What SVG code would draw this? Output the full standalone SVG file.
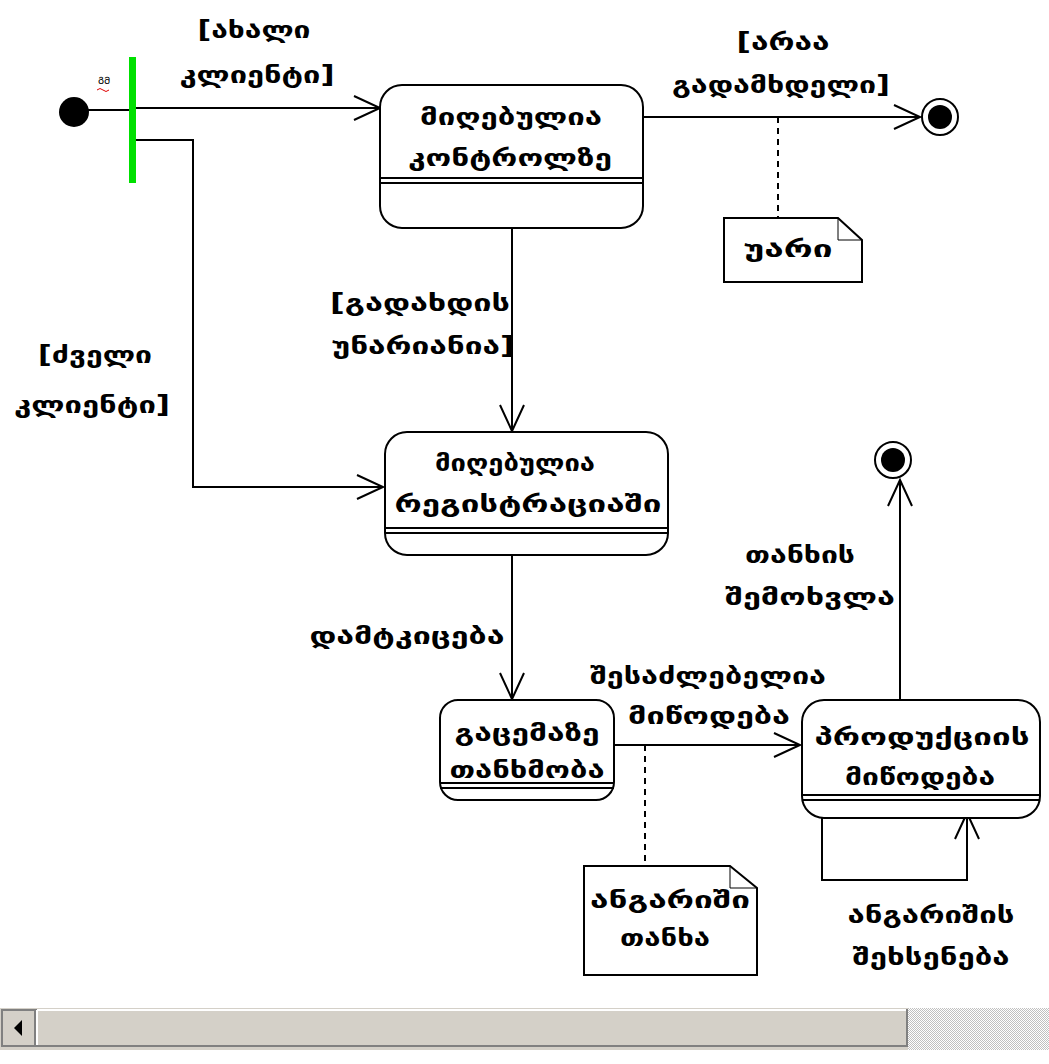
<svg xmlns="http://www.w3.org/2000/svg" width="1049" height="1064" viewBox="0 0 1049 1064">
<style>
text{font-family:"DejaVu Sans","Noto Sans",sans-serif;font-weight:bold;font-size:24px;fill:#000;text-anchor:middle}
.st{fill:#fff;stroke:#000;stroke-width:2}
.ln{fill:none;stroke:#000;stroke-width:2}
.dash{fill:none;stroke:#000;stroke-width:2;stroke-dasharray:6,5}
.arr{fill:none;stroke:#000;stroke-width:2;marker-end:url(#open)}
</style>
<defs>
<marker id="open" markerWidth="30" markerHeight="30" refX="27" refY="13" orient="auto" markerUnits="userSpaceOnUse">
<path d="M1,1 L27,13 L1,25" fill="none" stroke="#000" stroke-width="2"/>
</marker>
<pattern id="chk" width="2" height="2" patternUnits="userSpaceOnUse">
<rect width="2" height="2" fill="#fff"/><rect width="1" height="1" fill="#c0c0c0"/><rect x="1" y="1" width="1" height="1" fill="#c0c0c0"/>
</pattern>
</defs>
<rect width="1049" height="1064" fill="#fff"/>

<g id="connectors">
<line class="ln" x1="74" y1="110" x2="132" y2="110"/>
<line class="arr" x1="135" y1="108" x2="380" y2="108"/>
<polyline class="arr" points="135,140 193,140 193,487 383,487"/>
<line class="arr" x1="643" y1="117" x2="920" y2="117"/>
<line class="dash" x1="778" y1="117" x2="778" y2="218"/>
<line class="arr" x1="512" y1="228" x2="512" y2="431"/>
<line class="arr" x1="512" y1="555" x2="512" y2="699"/>
<line class="arr" x1="614" y1="745" x2="800" y2="745"/>
<line class="dash" x1="645" y1="745" x2="645" y2="866"/>
<polyline class="arr" points="822,812 822,880 967,880 967,813"/>
<line class="arr" x1="900" y1="700" x2="900" y2="480"/>
</g>

<g id="initial">
<circle cx="74" cy="112" r="15" fill="#000"/>
</g>
<g id="fork">
<rect x="129" y="57" width="7" height="126" fill="#00e000"/>
<text x="104" y="84" style="font-size:10px;font-weight:normal">ᲒᲛ</text>
<path d="M97,90 q3,-3 6,0 q3,3 6,0" fill="none" stroke="#e00000" stroke-width="1"/>
</g>

<g id="lbl-new">
<text x="254" y="38" textLength="113" lengthAdjust="spacingAndGlyphs">[ახალი</text>
<text x="257" y="83" textLength="155" lengthAdjust="spacingAndGlyphs">კლიენტი]</text>
</g>
<g id="lbl-old">
<text x="95" y="363" textLength="114" lengthAdjust="spacingAndGlyphs">[ძველი</text>
<text x="92" y="413" textLength="156" lengthAdjust="spacingAndGlyphs">კლიენტი]</text>
</g>

<g id="s1">
<rect class="st" x="380" y="85" width="263" height="143" rx="22"/>
<line class="ln" x1="380" y1="178" x2="643" y2="178"/>
<line class="ln" x1="380" y1="183" x2="643" y2="183"/>
<text x="511" y="125" textLength="182" lengthAdjust="spacingAndGlyphs">მიღებულია</text>
<text x="510" y="166" textLength="204" lengthAdjust="spacingAndGlyphs">კონტროლზე</text>
</g>

<g id="lbl-notpayer">
<text x="783" y="50" textLength="93" lengthAdjust="spacingAndGlyphs">[არაა</text>
<text x="781" y="93" textLength="218" lengthAdjust="spacingAndGlyphs">გადამხდელი]</text>
</g>

<g id="final1">
<circle cx="940" cy="117" r="18" fill="#fff" stroke="#000" stroke-width="2"/>
<circle cx="940" cy="117" r="12" fill="#000"/>
</g>

<g id="note1">
<path class="st" d="M724,218 H838 L862,240 V282 H724 Z"/>
<path class="ln" d="M838,218 V240 H862" style="stroke-width:1"/>
<text x="788" y="257" textLength="89" lengthAdjust="spacingAndGlyphs">უარი</text>
</g>

<g id="lbl-canpay">
<text x="420" y="311" textLength="180" lengthAdjust="spacingAndGlyphs">[გადახდის</text>
<text x="423" y="354" textLength="183" lengthAdjust="spacingAndGlyphs">უნარიანია]</text>
</g>

<g id="s2">
<rect class="st" x="385" y="432" width="283" height="123" rx="22"/>
<line class="ln" x1="385" y1="528" x2="668" y2="528"/>
<line class="ln" x1="385" y1="533" x2="668" y2="533"/>
<text x="515" y="471" textLength="160" lengthAdjust="spacingAndGlyphs">მიღებულია</text>
<text x="528" y="512" textLength="267" lengthAdjust="spacingAndGlyphs">რეგისტრაციაში</text>
</g>

<g id="lbl-approve">
<text x="407" y="644" textLength="195" lengthAdjust="spacingAndGlyphs">დამტკიცება</text>
</g>

<g id="s3">
<rect class="st" x="440" y="700" width="174" height="100" rx="18"/>
<line class="ln" x1="440" y1="783" x2="614" y2="783"/>
<line class="ln" x1="440" y1="788" x2="614" y2="788"/>
<text x="527" y="741" textLength="145" lengthAdjust="spacingAndGlyphs">გაცემაზე</text>
<text x="527" y="778" textLength="155" lengthAdjust="spacingAndGlyphs">თანხმობა</text>
</g>

<g id="lbl-possible">
<text x="708" y="684" textLength="236" lengthAdjust="spacingAndGlyphs">შესაძლებელია</text>
<text x="709" y="724" textLength="162" lengthAdjust="spacingAndGlyphs">მიწოდება</text>
</g>

<g id="note2">
<path class="st" d="M584,866 H730 L757,888 V975 H584 Z"/>
<path class="ln" d="M730,866 V888 H757" style="stroke-width:1"/>
<text x="670" y="908" textLength="160" lengthAdjust="spacingAndGlyphs">ანგარიში</text>
<text x="665" y="946" textLength="90" lengthAdjust="spacingAndGlyphs">თანხა</text>
</g>

<g id="s4">
<rect class="st" x="802" y="700" width="238" height="118" rx="22"/>
<line class="ln" x1="802" y1="795" x2="1040" y2="795"/>
<line class="ln" x1="802" y1="800" x2="1040" y2="800"/>
<text x="922" y="745" textLength="215" lengthAdjust="spacingAndGlyphs">პროდუქციის</text>
<text x="920" y="785" textLength="150" lengthAdjust="spacingAndGlyphs">მიწოდება</text>
</g>

<g id="lbl-reminder">
<text x="931" y="923" textLength="167" lengthAdjust="spacingAndGlyphs">ანგარიშის</text>
<text x="931" y="965" textLength="157" lengthAdjust="spacingAndGlyphs">შეხსენება</text>
</g>

<g id="lbl-money">
<text x="800" y="563" textLength="110" lengthAdjust="spacingAndGlyphs">თანხის</text>
<text x="810" y="605" textLength="170" lengthAdjust="spacingAndGlyphs">შემოხვლა</text>
</g>

<g id="final2">
<circle cx="893" cy="460" r="18" fill="#fff" stroke="#000" stroke-width="2"/>
<circle cx="893" cy="460" r="12" fill="#000"/>
</g>

<g id="scrollbar">
<rect x="0" y="1008" width="1049" height="42" fill="#d4d0c8"/>
<rect x="908" y="1008" width="141" height="42" fill="url(#chk)"/>
<rect x="2" y="1010" width="33" height="36" fill="#d4d0c8" stroke="#808080" stroke-width="2"/>
<path d="M22,1020 L14,1028 L22,1036 Z" fill="#000"/>
<rect x="37" y="1010" width="870" height="36" fill="#d4d0c8" stroke="#808080" stroke-width="2"/>
<line x1="37" y1="1010" x2="906" y2="1010" stroke="#fff" stroke-width="2"/>
<line x1="37" y1="1010" x2="37" y2="1045" stroke="#fff" stroke-width="2"/>
</g>
</svg>
